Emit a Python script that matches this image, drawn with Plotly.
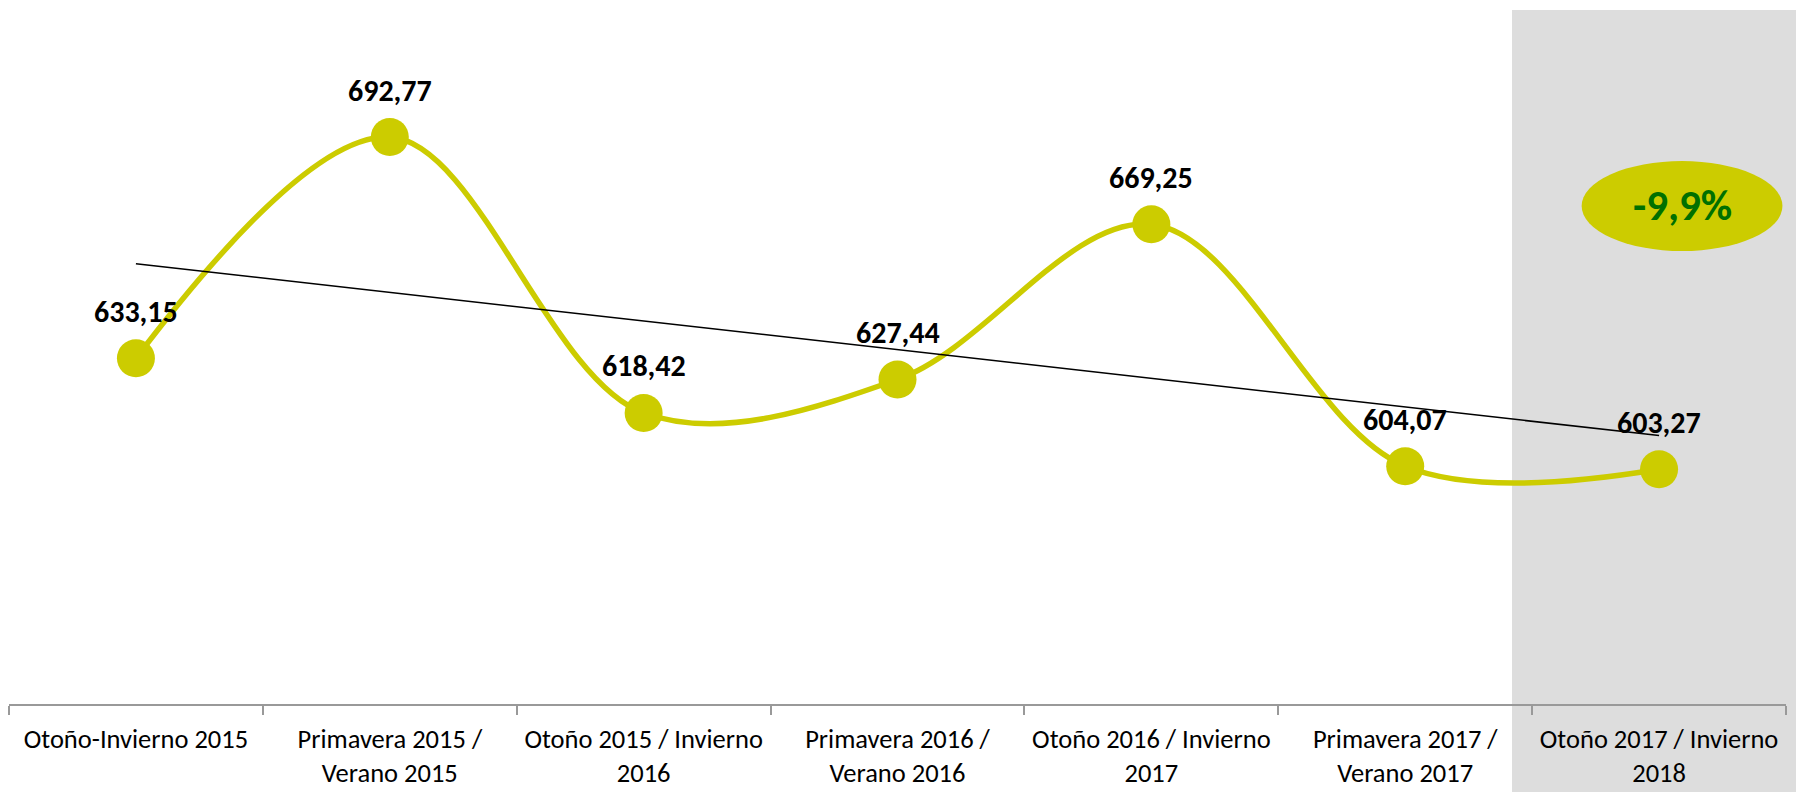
import numpy as np
import plotly.graph_objects as go

categories = [
    "Otoño-Invierno 2015",
    "Primavera 2015 /<br>Verano 2015",
    "Otoño 2015 / Invierno<br>2016",
    "Primavera 2016 /<br>Verano 2016",
    "Otoño 2016 / Invierno<br>2017",
    "Primavera 2017 /<br>Verano 2017",
    "Otoño 2017 / Invierno<br>2018",
]
values = [633.15, 692.77, 618.42, 627.44, 669.25, 604.07, 603.27]
value_labels = ["633,15", "692,77", "618,42", "627,44", "669,25", "604,07", "603,27"]
badge_text = "-9,9%"

FONT = "Carlito, Lato, sans-serif"
LINE_COLOR = "#CCCC00"

idx = np.arange(len(values))
slope, intercept = np.polyfit(idx, values, 1)
trend = [intercept + slope * i for i in idx]

fig = go.Figure()

fig.add_trace(go.Scatter(
    x=categories, y=values, mode="lines+markers",
    line=dict(color=LINE_COLOR, width=5.5, shape="spline", smoothing=1.0),
    marker=dict(size=38, color=LINE_COLOR, line=dict(width=0)),
    hoverinfo="skip", showlegend=False,
))
fig.add_trace(go.Scatter(
    x=categories, y=trend, mode="lines",
    line=dict(color="black", width=1.5),
    hoverinfo="skip", showlegend=False,
))

for c, v, t in zip(categories, values, value_labels):
    fig.add_annotation(
        x=c, y=v, text="<b>%s</b>" % t, showarrow=False, yshift=47,
        xanchor="center", yanchor="middle",
        font=dict(family=FONT, size=30, color="black"),
    )

# gray highlight behind the last category
fig.add_shape(type="rect", xref="paper", yref="paper",
              x0=0.8458, x1=1.05, y0=-0.3, y1=1.0,
              fillcolor="#DDDDDD", line=dict(width=0), layer="below")

# badge
fig.add_shape(type="circle", xref="paper", yref="paper",
              x0=0.885, x1=0.998, y0=0.6527, y1=0.7824,
              fillcolor="#CCCC00", line=dict(width=0), layer="above")
fig.add_annotation(xref="paper", yref="paper", x=0.9415, y=0.7176,
                   xanchor="center", yanchor="middle",
                   text="<b>%s</b>" % badge_text, showarrow=False,
                   font=dict(family=FONT, size=43, color="#007000"))

fig.update_xaxes(
    type="category", range=[-0.5, 6.5], automargin=False,
    showline=True, linecolor="#999999", linewidth=1.5,
    ticks="outside", tickson="boundaries", ticklen=9, tickcolor="#999999", tickwidth=1.5,
    ticklabelstandoff=10,
    showgrid=False, zeroline=False,
    tickfont=dict(family=FONT, size=26.5, color="black"),
)
fig.update_yaxes(range=[540, 727], visible=False, showgrid=False, zeroline=False,
                 automargin=False)

# page body has an 8px default margin: figure is sized to fill the rest
fig.update_layout(
    width=1796, height=784,
    margin=dict(l=1, r=18, t=2, b=88, pad=0),
    plot_bgcolor="rgba(0,0,0,0)", paper_bgcolor="white",
    showlegend=False,
)

fig.write_html("out.html")
